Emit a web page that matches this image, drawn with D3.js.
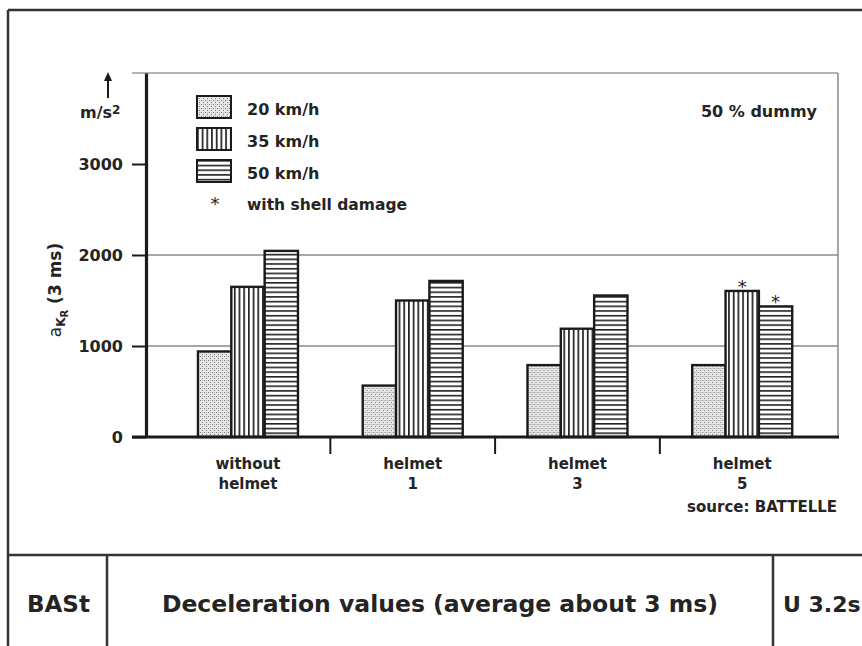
<!DOCTYPE html>
<html>
<head>
<meta charset="utf-8">
<script src="https://cdnjs.cloudflare.com/ajax/libs/d3/7.8.5/d3.min.js"></script>
<style>
  body { margin: 0; background: #fff; }
  text { font-family: "DejaVu Sans", sans-serif; font-weight: bold; fill: #242424; }
</style>
</head>
<body>
<script>
// Chart data.
var categories = ["without helmet", "helmet 1", "helmet 3", "helmet 5"];
var series = ["20 km/h", "35 km/h", "50 km/h"];
var v20 = [940, 565, 790, 790];
var v35 = [1650, 1500, 1190, 1605];
var v50 = [2045, 1715, 1555, 1435];
var damage35 = [0, 0, 0, 1];
var damage50 = [0, 0, 0, 1];
var yTicks = [0, 1000, 2000, 3000];
var gridValues = [1000, 2000];

function drawChart(){

  var wx = 862,
      hy = 646;

  var svg = d3.select("body")
      .append("svg")
      .attr("width", wx)
      .attr("height", hy);

  // Hatch patterns for the three speeds.
  var defs = svg.append("defs");

  var dots = defs.append("pattern")
      .attr("id", "p20")
      .attr("patternUnits", "userSpaceOnUse")
      .attr("width", 4).attr("height", 4);
  dots.append("rect").attr("width", 4).attr("height", 4).attr("fill", "#e6e6e6");
  dots.append("rect").attr("x", 0).attr("y", 0).attr("width", 1).attr("height", 1).attr("fill", "#7a7a7a");
  dots.append("rect").attr("x", 2).attr("y", 2).attr("width", 1).attr("height", 1).attr("fill", "#7a7a7a");
  dots.append("rect").attr("x", 2).attr("y", 0).attr("width", 1).attr("height", 1).attr("fill", "#b5b5b5");

  var vert = defs.append("pattern")
      .attr("id", "p35")
      .attr("patternUnits", "userSpaceOnUse")
      .attr("width", 4.7).attr("height", 4);
  vert.append("rect").attr("width", 4.7).attr("height", 4).attr("fill", "#fff");
  vert.append("rect").attr("x", 0).attr("width", 1.7).attr("height", 4).attr("fill", "#222");

  var horiz = defs.append("pattern")
      .attr("id", "p50")
      .attr("patternUnits", "userSpaceOnUse")
      .attr("width", 4).attr("height", 4.7);
  horiz.append("rect").attr("width", 4).attr("height", 4.7).attr("fill", "#fff");
  horiz.append("rect").attr("y", 0).attr("width", 4).attr("height", 1.6).attr("fill", "#222");

  var fills = ["url(#p20)", "url(#p35)", "url(#p50)"];

  // Scales.
  var y = d3.scaleLinear().domain([0, 4000]).range([437, 73]);
  var x0 = d3.scaleBand().domain(categories).range([165.6, 824.6]);
  var x1 = d3.scaleBand().domain(series).range([-50, 50]);

  // Outer sheet frame.
  svg.append("line").attr("x1", 8).attr("y1", 10).attr("x2", wx).attr("y2", 10)
     .attr("stroke", "#333").attr("stroke-width", 2.5);
  svg.append("line").attr("x1", 8).attr("y1", 10).attr("x2", 8).attr("y2", hy)
     .attr("stroke", "#333").attr("stroke-width", 2.5);

  // Plot frame, top and right (grey).
  svg.append("line").attr("x1", 132).attr("y1", y(4000)).attr("x2", 838).attr("y2", y(4000))
     .attr("stroke", "#9a9a9a").attr("stroke-width", 1.5);
  svg.append("line").attr("x1", 838).attr("y1", y(4000)).attr("x2", 838).attr("y2", y(0))
     .attr("stroke", "#8a8a8a").attr("stroke-width", 1.5);

  // Grid lines.
  svg.selectAll(".grid").data(gridValues).enter().append("line")
     .attr("class", "grid")
     .attr("x1", 146).attr("x2", 838)
     .attr("y1", function(d){ return y(d); })
     .attr("y2", function(d){ return y(d); })
     .attr("stroke", "#8a8a8a").attr("stroke-width", 1.3);

  // Bars.
  var rows = categories.map(function(c, i){
    return [v20[i], v35[i], v50[i]];
  });

  var groups = svg.selectAll(".grp").data(rows).enter().append("g")
     .attr("class", "grp")
     .attr("transform", function(d, i){ return "translate(" + (x0(categories[i]) + x0.bandwidth() / 2) + ",0)"; });

  groups.selectAll("rect").data(function(d){ return d; }).enter().append("rect")
     .attr("x", function(d, j){ return x1(series[j]); })
     .attr("y", function(d){ return y(d); })
     .attr("width", x1.bandwidth())
     .attr("height", function(d){ return y(0) - y(d); })
     .attr("fill", function(d, j){ return fills[j]; })
     .attr("stroke", "#1a1a1a")
     .attr("stroke-width", 2.4);

  // Shell damage marks.
  var stars = [];
  categories.forEach(function(c, i){
    if (damage35[i]) stars.push({ c: c, s: series[1], v: v35[i] });
    if (damage50[i]) stars.push({ c: c, s: series[2], v: v50[i] });
  });
  svg.selectAll(".star").data(stars).enter().append("text")
     .attr("class", "star")
     .attr("x", function(d){ return x0(d.c) + x0.bandwidth() / 2 + x1(d.s) + x1.bandwidth() / 2; })
     .attr("y", function(d){ return y(d.v) + 2; })
     .attr("text-anchor", "middle")
     .style("font-size", "18px")
     .style("font-weight", "normal")
     .text("*");

  // Y axis.
  var yAxis = svg.append("g")
     .attr("transform", "translate(146,0)")
     .call(d3.axisLeft(y).tickValues(yTicks).tickFormat(d3.format("d"))
       .tickSize(14).tickSizeOuter(0).tickPadding(9));
  yAxis.select(".domain").attr("stroke", "#1a1a1a").attr("stroke-width", 3.2);
  yAxis.selectAll(".tick line").attr("stroke", "#1a1a1a").attr("stroke-width", 2);
  yAxis.selectAll(".tick text")
     .style("font-family", "DejaVu Sans")
     .style("font-size", "16px")
     .style("font-weight", "bold")
     .attr("fill", "#242424");

  // X axis line and category separators.
  svg.append("line").attr("x1", 132).attr("x2", 839).attr("y1", y(0)).attr("y2", y(0))
     .attr("stroke", "#1a1a1a").attr("stroke-width", 3.2);
  svg.selectAll(".sep").data(categories.slice(1)).enter().append("line")
     .attr("class", "sep")
     .attr("x1", function(d){ return x0(d); })
     .attr("x2", function(d){ return x0(d); })
     .attr("y1", y(0)).attr("y2", y(0) + 17)
     .attr("stroke", "#1a1a1a").attr("stroke-width", 2);

  // Category labels, two lines each.
  var lab = svg.selectAll(".cat").data(categories).enter().append("text")
     .attr("class", "cat")
     .attr("text-anchor", "middle")
     .style("font-size", "15px");
  lab.selectAll("tspan").data(function(d){ return d.split(" ").map(function(t){ return { t: t, c: d }; }); })
     .enter().append("tspan")
     .attr("x", function(d){ return x0(d.c) + x0.bandwidth() / 2; })
     .attr("y", function(d, k){ return 469 + k * 20; })
     .text(function(d){ return d.t; });

  svg.append("text").attr("x", 837).attr("y", 512).attr("text-anchor", "end")
     .style("font-size", "15px").text("source: BATTELLE");

  // Legend.
  var leg = svg.selectAll(".leg").data(series).enter().append("g")
     .attr("class", "leg")
     .attr("transform", function(d, i){ return "translate(197," + (96 + i * 32) + ")"; });
  leg.append("rect")
     .attr("width", 34).attr("height", 22)
     .attr("fill", function(d, i){ return fills[i]; })
     .attr("stroke", "#1a1a1a").attr("stroke-width", 2);
  leg.append("text").attr("x", 50).attr("y", 19)
     .style("font-size", "16px").text(function(d){ return d; });

  svg.append("text").attr("x", 215).attr("y", 210).attr("text-anchor", "middle")
     .style("font-size", "18px").style("font-weight", "normal").text("*");
  svg.append("text").attr("x", 247).attr("y", 210)
     .style("font-size", "15.5px").text("with shell damage");

  svg.append("text").attr("x", 817).attr("y", 117).attr("text-anchor", "end")
     .style("font-size", "16px").text("50 % dummy");

  // Unit with arrow.
  svg.append("line").attr("x1", 108).attr("x2", 108).attr("y1", 98).attr("y2", 80)
     .attr("stroke", "#1a1a1a").attr("stroke-width", 2);
  svg.append("path").attr("d", "M104,81 L108,72 L112,81 Z").attr("fill", "#1a1a1a");
  var unit = svg.append("text").attr("x", 80).attr("y", 118).style("font-size", "16px");
  unit.append("tspan").text("m/s");
  unit.append("tspan").attr("dy", -4).style("font-size", "12px").text("2");

  // Y axis title a_KR (3 ms).
  var yt = svg.append("text")
     .attr("transform", "translate(61,290) rotate(-90)")
     .attr("text-anchor", "middle")
     .style("font-size", "17px");
  yt.append("tspan").style("font-weight", "normal").text("a");
  yt.append("tspan").attr("dy", 4).style("font-size", "12px").text("K");
  yt.append("tspan").attr("dy", 3).style("font-size", "10px").text("R");
  yt.append("tspan").attr("dy", -7).text(" (3 ms)");

  // Title block at the bottom.
  svg.append("line").attr("x1", 8).attr("x2", wx).attr("y1", 555).attr("y2", 555)
     .attr("stroke", "#333").attr("stroke-width", 2.5);
  svg.append("line").attr("x1", 107).attr("x2", 107).attr("y1", 555).attr("y2", hy)
     .attr("stroke", "#333").attr("stroke-width", 2.5);
  svg.append("line").attr("x1", 773).attr("x2", 773).attr("y1", 555).attr("y2", hy)
     .attr("stroke", "#333").attr("stroke-width", 2.5);

  svg.append("text").attr("x", 27).attr("y", 612).style("font-size", "23px").text("BASt");
  svg.append("text").attr("x", 440).attr("y", 612).attr("text-anchor", "middle")
     .style("font-size", "23.5px").text("Deceleration values (average about 3 ms)");
  svg.append("text").attr("x", 783).attr("y", 612).style("font-size", "22px").text("U 3.2s");
}
drawChart();
</script>
</body>
</html>
